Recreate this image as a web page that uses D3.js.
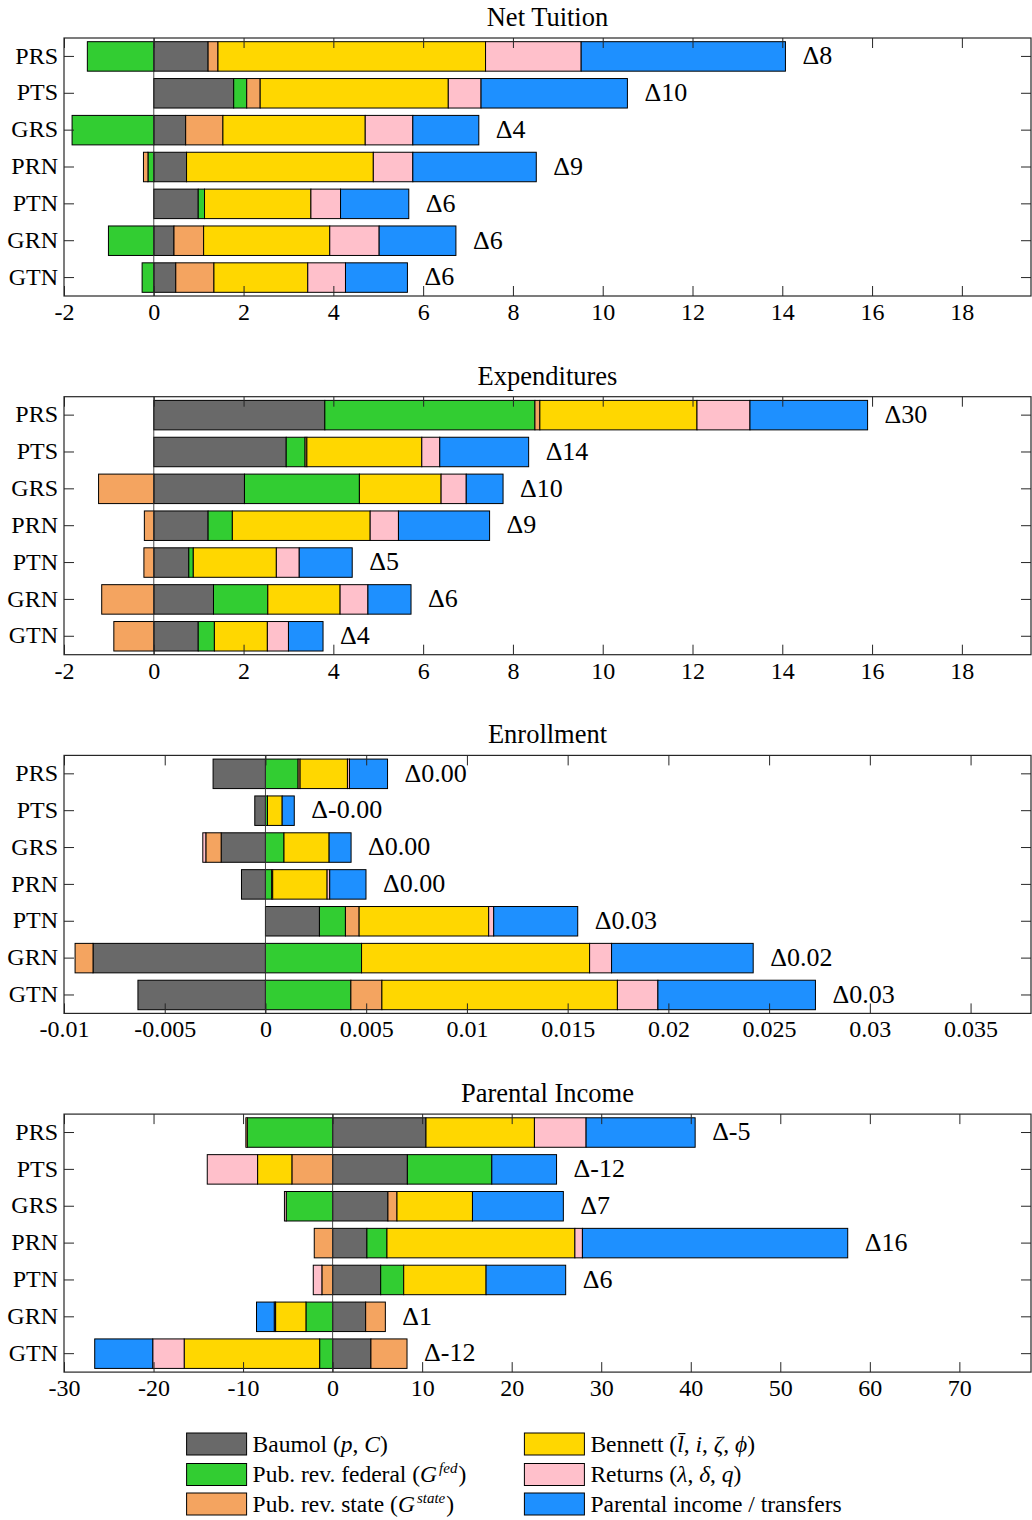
<!DOCTYPE html>
<html>
<head>
<meta charset="utf-8">
<script src="https://cdn.jsdelivr.net/npm/d3@7"></script>
<style>
  body { margin: 0; background: #fff; }
  svg { display: block; }
  text { font-family: "Liberation Serif", "Times New Roman", serif; fill: #000; }
</style>
</head>
<body>
<svg id="chart"></svg>
<script>
// ---- Data ----
const categories = ['PRS', 'PTS', 'GRS', 'PRN', 'PTN', 'GRN', 'GTN'];
const seriesColors = ['#696969', '#32cd32', '#f4a460', '#ffd700', '#ffc0cb', '#1e90ff'];

// columns: Baumol, Pub. rev. federal, Pub. rev. state, Bennett, Returns, Parental income
const netTuition = [
  [1.21, -1.48, 0.22, 5.96, 2.13, 4.55],
  [1.78, 0.29, 0.30, 4.19, 0.73, 3.26],
  [0.71, -1.82, 0.83, 3.17, 1.06, 1.47],
  [0.73, -0.13, -0.10, 4.16, 0.88, 2.75],
  [0.99, 0.14, 0, 2.37, 0.66, 1.52],
  [0.45, -1.01, 0.66, 2.81, 1.10, 1.71],
  [0.49, -0.26, 0.85, 2.09, 0.84, 1.38]
];
const expenditures = [
  [3.81, 4.68, 0.11, 3.50, 1.18, 2.62],
  [2.95, 0.42, 0.04, 2.56, 0.40, 1.98],
  [2.02, 2.56, -1.23, 1.82, 0.56, 0.82],
  [1.21, 0.54, -0.21, 3.07, 0.63, 2.03],
  [0.78, 0.10, -0.22, 1.85, 0.51, 1.18],
  [1.33, 1.21, -1.16, 1.61, 0.62, 0.96],
  [0.99, 0.36, -0.89, 1.18, 0.47, 0.77]
];
const enrollment = [
  [-0.0026, 0.00162, 0.0001, 0.00235, 0.0001, 0.00189],
  [-0.00053, 0.0001, 0, 0.00073, 0, 0.0006],
  [-0.0022, 0.00092, -0.00076, 0.00224, -0.00015, 0.00109],
  [-0.00119, 0.00031, 0.00005, 0.0027, 0.00013, 0.0018],
  [0.00268, 0.00129, 0.00068, 0.00643, 0.00025, 0.00417],
  [-0.00856, 0.00477, -0.00089, 0.01132, 0.00109, 0.00703],
  [-0.00633, 0.00424, 0.00154, 0.01169, 0.00201, 0.00782]
];
const parentalIncome = [
  [10.43, -9.54, -0.15, 12.11, 5.77, 12.18],
  [8.35, 9.43, -4.55, -3.83, -5.62, 7.23],
  [6.18, -5.18, 1.01, 8.43, -0.2, 10.15],
  [3.83, 2.24, -2.05, 20.99, 0.84, 29.63],
  [5.37, 2.57, -1.2, 9.2, -0.96, 8.89],
  [3.69, -2.98, 2.2, -3.39, -0.15, -1.98],
  [4.28, -1.45, 4.03, -15.13, -3.51, -6.48]
];

const netTuitionDelta = ['Δ8', 'Δ10', 'Δ4', 'Δ9', 'Δ6', 'Δ6', 'Δ6'];
const expendituresDelta = ['Δ30', 'Δ14', 'Δ10', 'Δ9', 'Δ5', 'Δ6', 'Δ4'];
const enrollmentDelta = ['Δ0.00', 'Δ-0.00', 'Δ0.00', 'Δ0.00', 'Δ0.03', 'Δ0.02', 'Δ0.03'];
const parentalDelta = ['Δ-5', 'Δ-12', 'Δ7', 'Δ16', 'Δ6', 'Δ1', 'Δ-12'];

const moneyTicks = [-2, 0, 2, 4, 6, 8, 10, 12, 14, 16, 18];
const enrollTicks = [-0.01, -0.005, 0, 0.005, 0.01, 0.015, 0.02, 0.025, 0.03, 0.035];
const incomeTicks = [-30, -20, -10, 0, 10, 20, 30, 40, 50, 60, 70];

const panels = [
  { title: 'Net Tuition', values: netTuition, deltas: netTuitionDelta, domain: [-2, 19.54], ticks: moneyTicks },
  { title: 'Expenditures', values: expenditures, deltas: expendituresDelta, domain: [-2, 19.54], ticks: moneyTicks },
  { title: 'Enrollment', values: enrollment, deltas: enrollmentDelta, domain: [-0.01, 0.038], ticks: enrollTicks },
  { title: 'Parental Income', values: parentalIncome, deltas: parentalDelta, domain: [-30, 78], ticks: incomeTicks }
];

// ---- Layout ----
const W = 1032, H = 1520;
const left = 64, right = 1031;
const boxH = 258, firstTop = 38, panelStep = 358.7;
const axisColor = '#262626';
const axisFont = '24px';

const svg = d3.select('#chart').attr('width', W).attr('height', H);

// stack one row MATLAB-style: positives grow right, negatives grow left
function stackRow(row) {
  let pos = 0, neg = 0;
  return row.map((v, i) => {
    let x0, x1;
    if (v >= 0) { x0 = pos; x1 = pos + v; pos = x1; }
    else { x1 = neg; x0 = neg + v; neg = x0; }
    return { i, v, x0, x1 };
  });
}

panels.forEach((p, pi) => {
  const top = firstTop + pi * panelStep;
  const g = svg.append('g').attr('transform', `translate(0,${top})`);

  const x = d3.scaleLinear().domain(p.domain).range([left, right]);
  const y = d3.scaleBand().domain(categories).range([0, boxH])
    .paddingInner(0.2).paddingOuter(0.1);

  // title
  g.append('text')
    .attr('x', (left + right) / 2).attr('y', -12)
    .attr('text-anchor', 'middle')
    .style('font-size', '26.5px')
    .text(p.title);

  // bars
  const rows = g.selectAll('.row')
    .data(p.values.map((r, k) => ({ cat: categories[k], segs: stackRow(r), delta: p.deltas[k], row: r })))
    .join('g').attr('class', 'row');

  rows.selectAll('rect')
    .data(d => d.segs.filter(s => s.v !== 0).map(s => Object.assign({ cat: d.cat }, s)))
    .join('rect')
    .attr('x', s => x(s.x0))
    .attr('width', s => Math.max(0, x(s.x1) - x(s.x0)))
    .attr('y', s => y(s.cat))
    .attr('height', y.bandwidth())
    .attr('fill', s => seriesColors[s.i])
    .attr('stroke', '#000')
    .attr('stroke-width', 1);

  // delta labels after the positive end of each bar
  rows.append('text')
    .attr('x', d => x(d3.sum(d.row.filter(v => v > 0))) + 17)
    .attr('y', d => y(d.cat) + y.bandwidth() / 2)
    .attr('dy', '0.3em')
    .style('font-size', '26px')
    .text(d => d.delta);

  // zero line
  g.append('line')
    .attr('x1', x(0)).attr('x2', x(0))
    .attr('y1', 0).attr('y2', boxH)
    .attr('stroke', '#333').attr('stroke-width', 0.9);

  // axes (ticks inward, mirrored)
  const fmt = d => String(d);
  const bottom = g.append('g').attr('transform', `translate(0,${boxH})`)
    .call(d3.axisBottom(x).tickValues(p.ticks).tickFormat(fmt).tickSize(-10).tickPadding(7));
  const topAx = g.append('g')
    .call(d3.axisTop(x).tickValues(p.ticks).tickFormat('').tickSize(-10));
  const leftAx = g.append('g').attr('transform', `translate(${left},0)`)
    .call(d3.axisLeft(y).tickSize(-10).tickPadding(6));
  const rightAx = g.append('g').attr('transform', `translate(${right},0)`)
    .call(d3.axisRight(y).tickFormat('').tickSize(-10));

  [bottom, topAx, leftAx, rightAx].forEach(a => {
    a.select('.domain').remove();
    a.selectAll('line').attr('stroke', axisColor);
    a.selectAll('text').style('font-size', axisFont).attr('fill', '#000')
      .style('font-family', '"Liberation Serif", "Times New Roman", serif');
  });
  leftAx.selectAll('text').attr('dy', '0.3em');

  // box
  g.append('rect')
    .attr('x', left).attr('y', 0)
    .attr('width', right - left).attr('height', boxH)
    .attr('fill', 'none').attr('stroke', axisColor).attr('stroke-width', 1.2);
});

// ---- Legend ----
const legendItems = [
  [{ t: 'Baumol (' }, { t: 'p', i: true }, { t: ', ' }, { t: 'C', i: true }, { t: ')' }],
  [{ t: 'Pub. rev. federal (' }, { t: 'G', i: true }, { t: 'fed', i: true, sup: true }, { t: ')' }],
  [{ t: 'Pub. rev. state (' }, { t: 'G', i: true }, { t: 'state', i: true, sup: true }, { t: ')' }],
  [{ t: 'Bennett (' }, { t: 'l\u0304', i: true }, { t: ', ' }, { t: 'i', i: true }, { t: ', ' }, { t: 'ζ', i: true }, { t: ', ' }, { t: 'ϕ', i: true }, { t: ')' }],
  [{ t: 'Returns (' }, { t: 'λ', i: true }, { t: ', ' }, { t: 'δ', i: true }, { t: ', ' }, { t: 'q', i: true }, { t: ')' }],
  [{ t: 'Parental income / transfers' }]
];
const legendCols = [186.6, 524.4];
const legendRows = [1444, 1474.5, 1504];

const leg = svg.append('g');
legendItems.forEach((parts, k) => {
  const cx = legendCols[Math.floor(k / 3)];
  const cy = legendRows[k % 3];
  leg.append('rect')
    .attr('x', cx).attr('y', cy - 11)
    .attr('width', 60).attr('height', 22)
    .attr('fill', seriesColors[k])
    .attr('stroke', '#000').attr('stroke-width', 1);
  const t = leg.append('text')
    .attr('x', cx + 66).attr('y', cy + 7.5)
    .style('font-size', '23.5px');
  let raised = false;
  parts.forEach(part => {
    const ts = t.append('tspan').text(part.t);
    if (part.i) ts.style('font-style', 'italic');
    if (part.sup) { ts.attr('dy', -9).attr('dx', 2).style('font-size', '15px'); raised = true; }
    else if (raised) { ts.attr('dy', 9).attr('dx', 1); raised = false; }
  });
});
</script>
</body>
</html>
